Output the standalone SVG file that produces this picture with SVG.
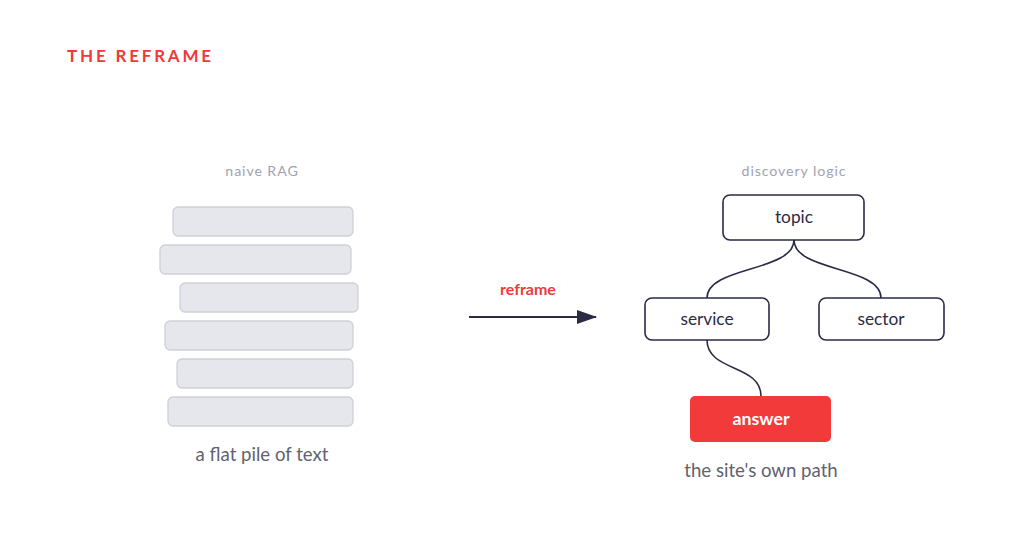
<svg xmlns="http://www.w3.org/2000/svg" width="1024" height="560" viewBox="0 0 1024 560">
<defs>
<style>
text{font-family:Lato,"Open Sans","Liberation Sans",sans-serif}
.bar{fill:#e6e7ec;stroke:#cfd0d8;stroke-width:1.3}
.box{fill:#ffffff;stroke:#2a2b45;stroke-width:1.6}
.lbl{font-size:17.3px;fill:#2a2b45;text-anchor:middle}
.cap{font-size:14.2px;fill:#a0a3b1;text-anchor:middle;letter-spacing:0.9px}
.sub{font-size:18.6px;fill:#5f6270;text-anchor:middle}
.conn{fill:none;stroke:#2a2b45;stroke-width:1.6}
</style>
<marker id="ah" markerWidth="20" markerHeight="14" refX="19" refY="7" orient="auto" markerUnits="userSpaceOnUse">
<path d="M0,0 L20,7 L0,14 Z" fill="#2a2b45"/>
</marker>
</defs>
<rect width="1024" height="560" fill="#ffffff"/>
<text x="67" y="62" font-size="17" font-weight="700" fill="#f03a3a" letter-spacing="2.8">THE REFRAME</text>

<g id="naive">
<text class="cap" x="262" y="176">naive RAG</text>
<rect class="bar" x="173" y="207" width="180" height="29" rx="5"/>
<rect class="bar" x="160" y="245" width="191" height="29" rx="5"/>
<rect class="bar" x="180" y="283" width="178" height="29" rx="5"/>
<rect class="bar" x="165" y="321" width="188" height="29" rx="5"/>
<rect class="bar" x="177" y="359" width="176" height="29" rx="5"/>
<rect class="bar" x="168" y="397" width="185" height="29" rx="5"/>
<text class="sub" x="262" y="461">a flat pile of text</text>
</g>

<g id="reframe-arrow">
<text x="528" y="295" font-size="16" font-weight="700" fill="#f03a3a" text-anchor="middle">reframe</text>
<line x1="469" y1="317" x2="596" y2="317" stroke="#2a2b45" stroke-width="2.2" marker-end="url(#ah)"/>
</g>

<text class="cap" x="794" y="176">discovery logic</text>

<g id="connectors">
<path class="conn" d="M794,240 C794,272 707,266 707,298"/>
<path class="conn" d="M794,240 C794,272 881,266 881,298"/>
<path class="conn" d="M707,340 C707,372 761,364 761,396"/>
</g>

<g id="topic">
<rect class="box" x="723" y="195" width="141" height="45" rx="7"/>
<text class="lbl" x="794" y="223">topic</text>
</g>
<g id="service">
<rect class="box" x="645" y="298" width="124" height="42" rx="7"/>
<text class="lbl" x="707" y="325">service</text>
</g>
<g id="sector">
<rect class="box" x="819" y="298" width="125" height="42" rx="7"/>
<text class="lbl" x="881" y="325">sector</text>
</g>
<g id="answer">
<rect x="690" y="396" width="141" height="46" rx="5" fill="#f23a3a"/>
<text x="761" y="425" font-size="17.8" font-weight="700" fill="#ffffff" text-anchor="middle">answer</text>
</g>
<text class="sub" x="761" y="477">the site's own path</text>
</svg>
